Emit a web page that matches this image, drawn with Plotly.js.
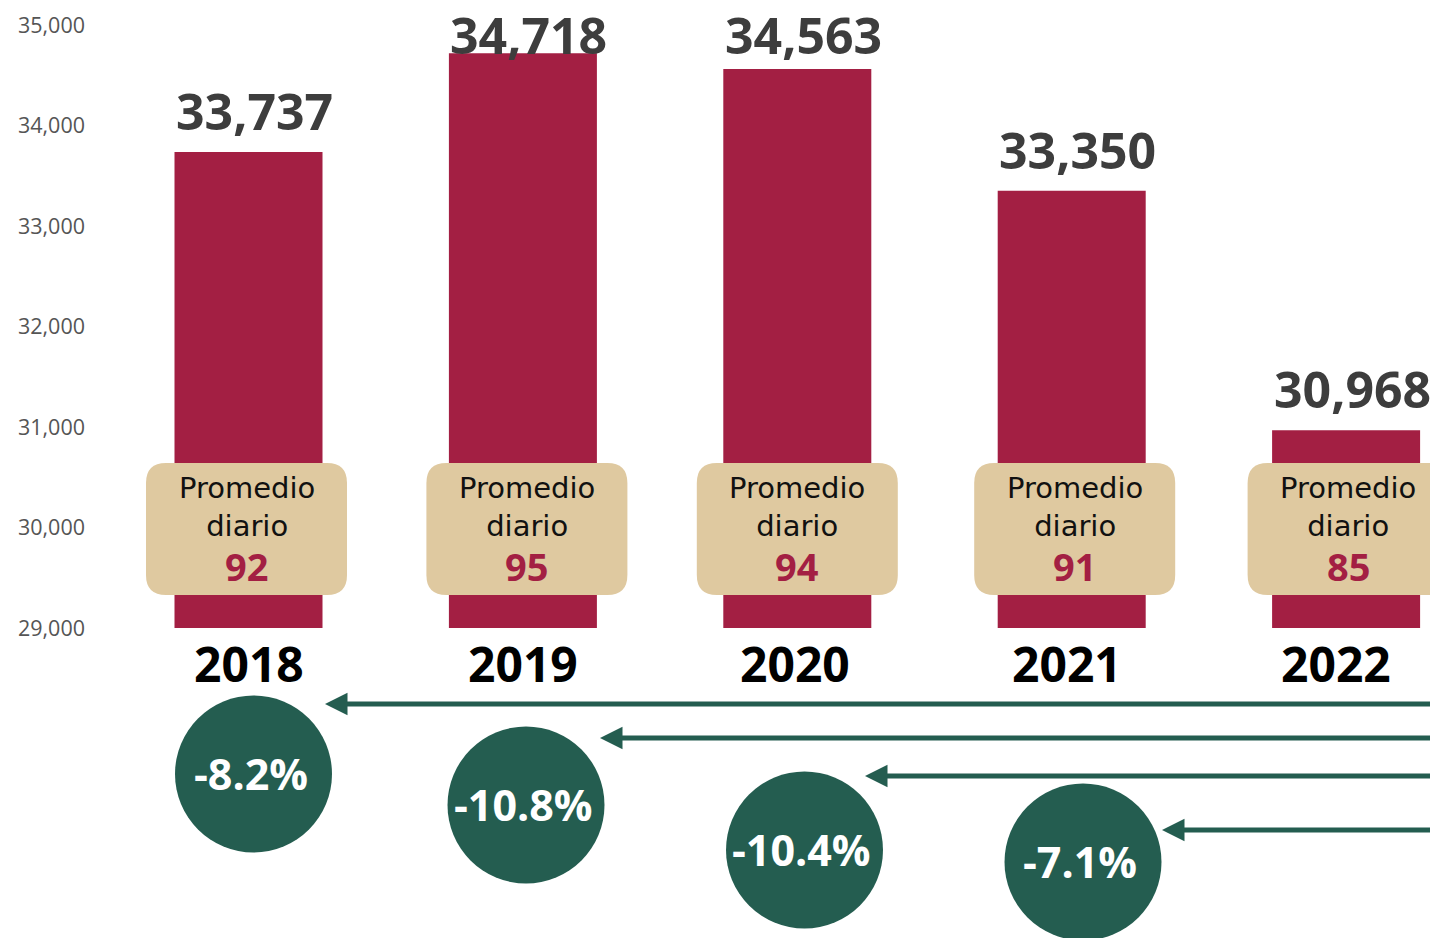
<!DOCTYPE html>
<html>
<head>
<meta charset="utf-8">
<script src="https://cdn.plot.ly/plotly-3.0.1.min.js"></script>
<style>html,body{margin:0;padding:0;background:#fff;}#chart{width:1430px;height:938px;}</style>
</head>
<body>
<div id="chart"></div>
<script>
// ---- data ----
const years = ["2018", "2019", "2020", "2021", "2022"];
const totals = [33737, 34718, 34563, 33350, 30968];
const dailyAvg = [92, 95, 94, 91, 85];
const changeLabels = ["-8.2%", "-10.8%", "-10.4%", "-7.1%"];
const yTicks = [29000, 30000, 31000, 32000, 33000, 34000, 35000];

// ---- layout helpers (pixel geometry of the page) ----
const W = 1430, H = 938, ML = 86;
const yTopPx = 25, yBotPx = 628;               // pixel rows of 35,000 and 29,000
const perPx = (35000 - 29000) / (yBotPx - yTopPx);
const yMax = 35000 + yTopPx * perPx;
const yMin = 29000 - (H - yBotPx) * perPx;
const pxPerUnit = 274.4, firstCenterPx = 248.5;
const xMin = -(firstCenterPx - ML) / pxPerUnit;
const xMax = (W - firstCenterPx) / pxPerUnit;
const yPx = p => 35000 - (p - yTopPx) * perPx;   // pixel row -> data y
const xs = years.map((_, i) => i);
const base = 29000;

const RED = "#A31F43", TAN = "#DFC9A0", GREEN = "#245D50";

const shapes = [];
const annotations = [];

// value labels above bars (labels that would leave the page are pinned to the top)
const topLimit = 34400;
totals.forEach((v, i) => {
  const pinned = v > topLimit;
  annotations.push({
    x: i, y: pinned ? 1 : v, xref: "x", yref: pinned ? "paper" : "y",
    text: v.toLocaleString("en-US"), showarrow: false,
    yanchor: pinned ? "top" : "bottom", xshift: 6, yshift: pinned ? 0 : 6, borderpad: 0,
    font: {family: "Open Sans", size: 50, color: "#3d3d3d", weight: 700}
  });
});

// Promedio diario boxes
const boxShift = [-2, 4, 0, 3, 2];
const bw = 201 / pxPerUnit / 2;
const rx = 20 / pxPerUnit, ry = 20 * perPx;
const bTop = yPx(463), bBot = yPx(595);
dailyAvg.forEach((d, i) => {
  const c = i + boxShift[i] / pxPerUnit;
  const x0 = c - bw, x1 = c + bw;
  const path = `M ${x0 + rx},${bTop} L ${x1 - rx},${bTop} Q ${x1},${bTop} ${x1},${bTop - ry} ` +
    `L ${x1},${bBot + ry} Q ${x1},${bBot} ${x1 - rx},${bBot} L ${x0 + rx},${bBot} ` +
    `Q ${x0},${bBot} ${x0},${bBot + ry} L ${x0},${bTop - ry} Q ${x0},${bTop} ${x0 + rx},${bTop} Z`;
  shapes.push({type: "path", xref: "x", yref: "y", path: path, fillcolor: TAN, line: {width: 0}, layer: "above"});
  annotations.push({
    x: c, y: yPx(507), xref: "x", yref: "y", text: "Promedio<br>diario", showarrow: false,
    borderpad: 0, font: {family: "DejaVu Sans", size: 29, color: "#111"}, align: "center"
  });
  annotations.push({
    x: c, y: yPx(566), xref: "x", yref: "y", text: "<b>" + d + "</b>", showarrow: false,
    borderpad: 0, font: {family: "Open Sans", size: 38, color: RED}
  });
});

// year labels
const yearShift = [0, 0, -2, -5, -10];
years.forEach((yr, i) => {
  annotations.push({
    x: i, y: yPx(663), xref: "x", yref: "y", text: "<b>" + yr + "</b>", showarrow: false,
    xshift: yearShift[i], borderpad: 0, font: {family: "Open Sans", size: 48, color: "#000"}
  });
});

// arrows and change circles
const arrowRows = [704, 738, 776, 830];
const arrowTips = [325, 600, 865, 1162];
const circleCx = [253.5, 526, 804.5, 1083];
const circleCy = [774, 805, 850, 862];
const R = 78.5;
changeLabels.forEach((lab, i) => {
  const tipX = (arrowTips[i] - firstCenterPx) / pxPerUnit;
  annotations.push({
    x: tipX, y: yPx(arrowRows[i]), xref: "x", yref: "y",
    ax: xMax + 0.2, ay: yPx(arrowRows[i]), axref: "x", ayref: "y",
    showarrow: true, arrowhead: 2, arrowsize: 0.9, arrowwidth: 5, arrowcolor: GREEN, text: ""
  });
  const cx = (circleCx[i] - firstCenterPx) / pxPerUnit;
  const cy = yPx(circleCy[i]);
  shapes.push({
    type: "circle", xref: "x", yref: "y", xsizemode: "pixel", ysizemode: "pixel",
    xanchor: cx, yanchor: cy, x0: -R, x1: R, y0: -R, y1: R,
    fillcolor: GREEN, line: {width: 0}, layer: "above"
  });
  annotations.push({
    x: cx, y: cy, xref: "x", yref: "y", text: "<b>" + lab + "</b>", showarrow: false,
    xshift: -3, yshift: 1, borderpad: 0, font: {family: "Open Sans", size: 43, color: "#fff"}
  });
});

const trace = {
  type: "bar", x: xs, y: totals.map(v => v - base), base: base,
  width: 148 / pxPerUnit, marker: {color: RED, line: {width: 0}},
  hovertemplate: "%{customdata}<extra></extra>", customdata: totals
};

const layout = {
  width: W, height: H,
  margin: {l: ML, r: 0, t: 0, b: 0},
  paper_bgcolor: "#ffffff", plot_bgcolor: "rgba(0,0,0,0)",
  showlegend: false,
  xaxis: {range: [xMin, xMax], visible: false, fixedrange: true},
  yaxis: {
    range: [yMin, yMax], tickvals: yTicks, ticktext: yTicks.map(v => v.toLocaleString("en-US")),
    showgrid: false, zeroline: false, showline: false, ticks: "", fixedrange: true,
    tickfont: {family: "Open Sans", size: 21.5, color: "#555"}
  },
  shapes: shapes,
  annotations: annotations
};

Plotly.newPlot("chart", [trace], layout, {displayModeBar: false, staticPlot: true});
</script>
</body>
</html>
